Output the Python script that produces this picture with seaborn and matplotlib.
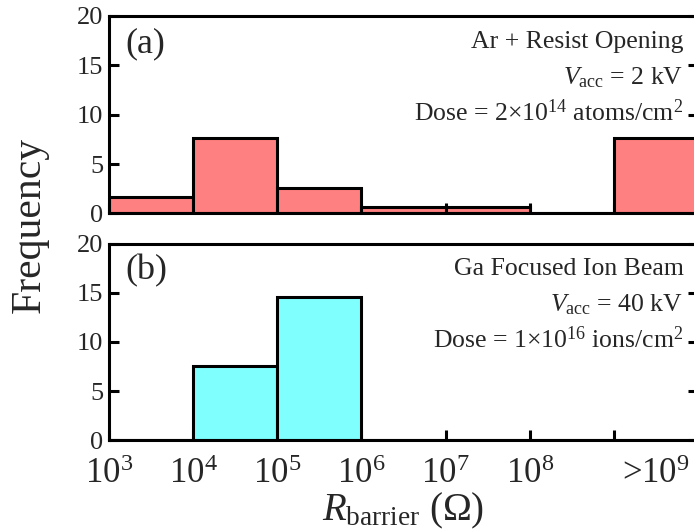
import matplotlib
matplotlib.use("Agg")
import matplotlib.pyplot as plt
import seaborn as sns
import numpy as np

# Histogram bins in log10(R_barrier / ohm); the last bin collects everything above 1e9
log_edges = [3, 4, 5, 6, 7, 8, 9, 10]
freq_ar = [1.7, 7.6, 2.6, 0.7, 0.7, 0.0, 7.6]
freq_ga = [0.0, 7.6, 14.6, 0.0, 0.0, 0.0, 0.0]
tick_values = [3, 4, 5, 6, 7, 8, 9]
tick_labels = ["$10^{3}$", "$10^{4}$", "$10^{5}$", "$10^{6}$", "$10^{7}$", "$10^{8}$", ""]
overflow_label = ">$10^{9}$"

panel_tags = ["(a)", "(b)"]
panel_notes = [
    ["Ar + Resist Opening", "$V_{\\mathrm{acc}}$ = 2 kV",
     "Dose = 2\u00d710$^{14}$ atoms/cm$^{2}$"],
    ["Ga Focused Ion Beam", "$V_{\\mathrm{acc}}$ = 40 kV",
     "Dose = 1\u00d710$^{16}$ ions/cm$^{2}$"],
]
bar_colors = ["#FF8080", "#80FFFF"]

sns.set_theme(style="ticks")
plt.rcParams["font.family"] = ["Liberation Serif", "DejaVu Serif"]
plt.rcParams["mathtext.fontset"] = "custom"
plt.rcParams["mathtext.rm"] = "Liberation Serif"
plt.rcParams["mathtext.it"] = "Liberation Serif:italic"
plt.rcParams["mathtext.bf"] = "Liberation Serif:bold"

LW = 2.2
fig = plt.figure(figsize=(6.94, 5.31), dpi=100)
ax_a = fig.add_axes([0.157, 0.598, 0.849, 0.372])
ax_b = fig.add_axes([0.157, 0.171, 0.849, 0.370])

centers = [(lo + hi) / 2 for lo, hi in zip(log_edges[:-1], log_edges[1:])]

for ax, freq, color, tag, notes in zip(
    [ax_a, ax_b], [freq_ar, freq_ga], bar_colors, panel_tags, panel_notes
):
    sns.histplot(x=centers, weights=freq, bins=log_edges, color=color,
                 edgecolor="black", linewidth=LW, alpha=1, ax=ax)
    ax.set_xlim(3, 10)
    ax.set_ylim(0, 20)
    ax.set_yticks([0, 5, 10, 15, 20])
    ax.set_xticks(tick_values, labels=tick_labels)
    ax.set_xticks([9.5], labels=[overflow_label], minor=True)
    ax.set_ylabel("")
    ax.set_xlabel("")
    for sp in ax.spines.values():
        sp.set_linewidth(LW)
        sp.set_color("black")
        sp.set_visible(True)
    ax.tick_params(axis="both", which="major", direction="in", length=7,
                   width=LW, color="black", top=False, right=True)
    ax.tick_params(axis="x", which="minor", length=0)
    ax.tick_params(axis="y", labelsize=19, pad=4)
    ax.tick_params(axis="x", which="both", labelsize=25, pad=13)
    ax.text(0.028, 0.86, tag, transform=ax.transAxes, fontsize=26,
            ha="left", va="center")
    for i, line in enumerate(notes):
        ax.text(0.975, 0.84 - i * 0.185, line, transform=ax.transAxes,
                fontsize=18.5, ha="right", va="baseline")

ax_a.tick_params(axis="x", which="both", labelbottom=False)

ax_b.set_xlabel("$R_{\\mathrm{barrier}}$ (\u03a9)", fontsize=28, labelpad=0)
fig.text(0.043, 0.576, "Frequency", rotation=90, fontsize=30,
         ha="center", va="center")

fig.savefig("out.png", dpi=100)
